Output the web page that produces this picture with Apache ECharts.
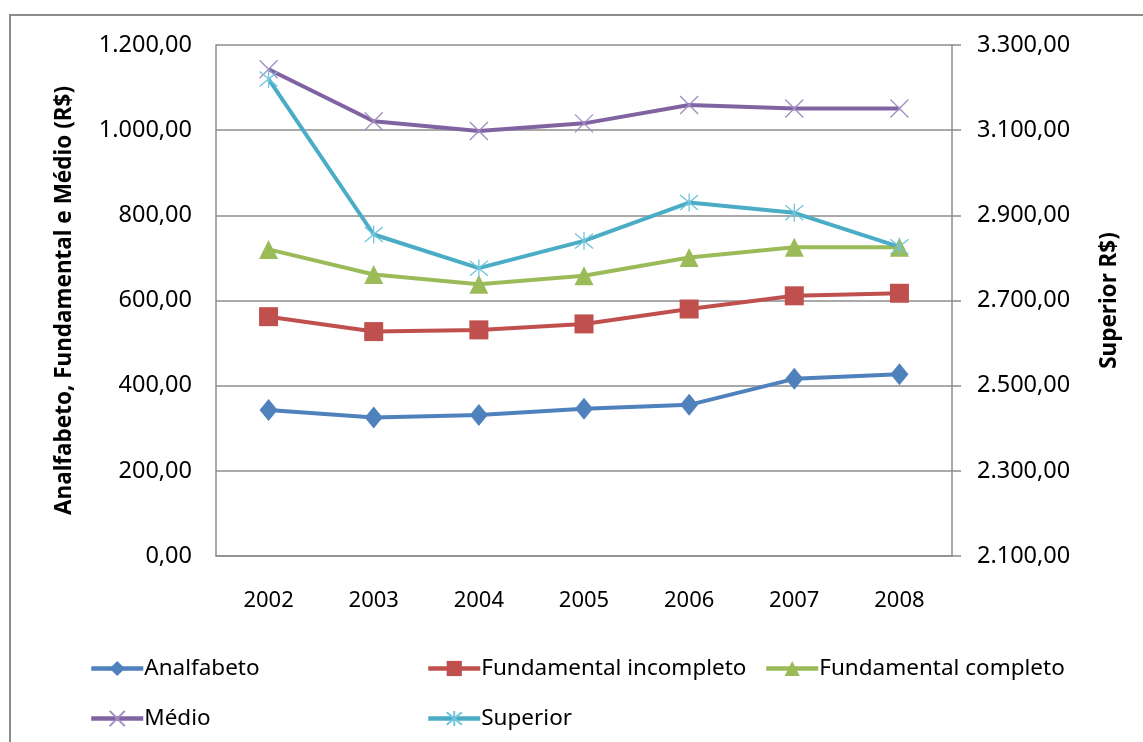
<!DOCTYPE html>
<html>
<head>
<meta charset="utf-8">
<script src="https://cdn.jsdelivr.net/npm/echarts@6/dist/echarts.min.js"></script>
<style>
html,body{margin:0;padding:0;background:#fff;}
#c{width:1143px;height:742px;}
</style>
</head>
<body>
<div id="c"></div>
<script>
const years = ['2002','2003','2004','2005','2006','2007','2008'];
const analfabeto = [343, 325, 331, 346, 355, 416, 427];
const fundIncompleto = [562, 527, 531, 545, 580, 611, 617];
const fundCompleto = [720, 661, 638, 658, 701, 725, 725];
const medio = [1143, 1021, 998, 1016, 1059, 1051, 1051];
const superior = [3220, 2855, 2776, 2840, 2930, 2906, 2826];

const FONT = 'Noto Sans';
function fmtBR(v){
  const neg = v < 0; v = Math.abs(v);
  let s = v.toFixed(2);
  let [i, d] = s.split('.');
  i = i.replace(/\B(?=(\d{3})+(?!\d))/g, '.');
  return (neg ? '-' : '') + i + ',' + d;
}
const X_PATH = 'path://M0 0 L10 10 M10 0 L0 10';
const AST_PATH = 'path://M0 0 L10 10 M10 0 L0 10 M5 -1 L5 11';

const chart = echarts.init(document.getElementById('c'));
function mkSeries(name, data, color, symbol, size, yIdx, symColor, symBorder){
  return {
    name, type:'line', data, yAxisIndex:yIdx,
    symbol, symbolSize:size,
    lineStyle:{color, width:4},
    itemStyle:{color: symColor || color, borderColor: symBorder || color, borderWidth: symBorder ? 1.3 : 0},
    emphasis:{disabled:true},
    z: 3
  };
}
const legendBase = {
  orient:'horizontal', itemWidth:52, itemHeight:19, itemGap:0,
  lineStyle:{width:4.5},
  textStyle:{fontFamily:FONT, fontSize:22.5, color:'#000', padding:[0,0,0,-4]},
  selectedMode:false
};
chart.setOption({
  animation:false,
  backgroundColor:'#fff',
  graphic:[{type:'rect', shape:{x:10, y:15, width:1140, height:740}, style:{fill:'none', stroke:'#8c8c8c', lineWidth:2}, silent:true}],
  grid:{left:216, right:191, top:45, bottom:186},
  legend:[
    Object.assign({}, legendBase, {left:84, top:652, data:['Analfabeto']}),
    Object.assign({}, legendBase, {left:421, top:652, data:['Fundamental incompleto']}),
    Object.assign({}, legendBase, {left:759, top:652, data:['Fundamental completo']}),
    Object.assign({}, legendBase, {left:84, top:702, data:['Médio']}),
    Object.assign({}, legendBase, {left:421, top:702, data:['Superior']})
  ],
  xAxis:{
    type:'category', data:years, boundaryGap:true,
    axisLine:{lineStyle:{color:'#8c8c8c', width:1.5}},
    axisTick:{show:false},
    axisLabel:{fontFamily:FONT, fontSize:22, color:'#000', margin:34}
  },
  yAxis:[
    {
      type:'value', min:0, max:1200, interval:200, position:'left',
      name:'Analfabeto, Fundamental e Médio (R$)', nameLocation:'middle', nameGap:140,
      nameTextStyle:{fontFamily:FONT, fontSize:22.5, fontWeight:'bold', color:'#000'},
      axisLine:{show:true, lineStyle:{color:'#8c8c8c', width:1.5}},
      axisTick:{show:false},
      splitLine:{lineStyle:{color:'#8c8c8c', width:1.5}},
      axisLabel:{fontFamily:FONT, fontSize:23.5, color:'#000', margin:24, formatter:fmtBR}
    },
    {
      type:'value', min:2100, max:3300, interval:200, position:'right',
      name:'Superior R$)', nameLocation:'middle', nameGap:146, nameRotate:90,
      nameTextStyle:{fontFamily:FONT, fontSize:22.5, fontWeight:'bold', color:'#000'},
      axisLine:{show:true, lineStyle:{color:'#8c8c8c', width:1.5}},
      axisTick:{show:true, length:9, inside:false, lineStyle:{color:'#8c8c8c', width:1.5}},
      splitLine:{show:false},
      axisLabel:{fontFamily:FONT, fontSize:23.5, color:'#000', margin:25, formatter:fmtBR}
    }
  ],
  series:[
    mkSeries('Analfabeto', analfabeto, '#4f81bd', 'diamond', [18,22], 0),
    mkSeries('Fundamental incompleto', fundIncompleto, '#c0504d', 'rect', 19, 0),
    mkSeries('Fundamental completo', fundCompleto, '#9bbb59', 'triangle', 19, 0),
    mkSeries('Médio', medio, '#8064a2', X_PATH, 18, 0, 'none', '#a18dc1'),
    mkSeries('Superior', superior, '#4bacc6', AST_PATH, 18, 1, 'none', '#6fc5dc')
  ]
});
</script>
</body>
</html>
